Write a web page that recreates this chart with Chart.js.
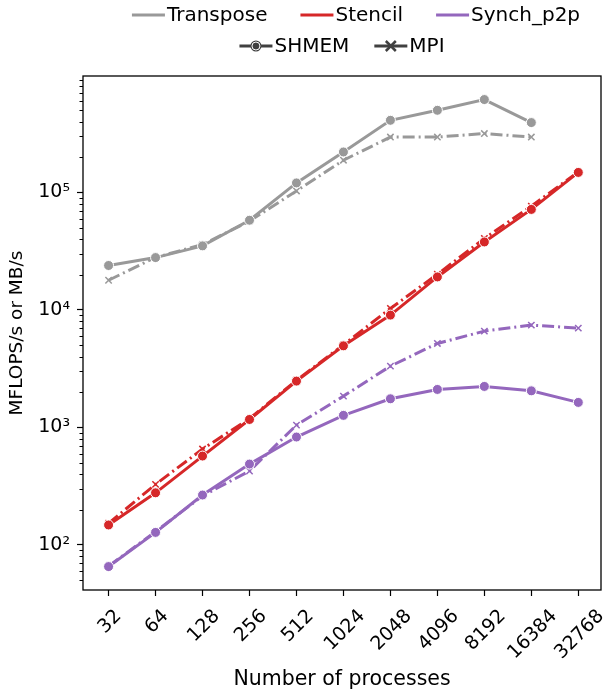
<!DOCTYPE html>
<html>
<head>
<meta charset="utf-8">
<script src="https://cdn.jsdelivr.net/npm/chart.js@4.4.1/dist/chart.umd.min.js"></script>
<style>
  body { margin: 0; background: #fff; }
  canvas { display: block; }
</style>
</head>
<body>
<canvas id="chart" width="608" height="696"></canvas>
<script>
// process counts on the x axis
const procs = [32, 64, 128, 256, 512, 1024, 2048, 4096, 8192, 16384, 32768];

// (MFLOPS/s or MB/s)
const transposeShmem = [23900, 27900, 35100, 58000, 120500, 221000, 411000, 500000, 617000, 393000];
const transposeMpi = [17900, 28000, 36000, 57000, 103000, 188000, 296000, 296000, 317000, 296000];
const stencilShmem = [148, 278, 571, 1170, 2480, 4950, 9040, 19100, 37900, 71700, 148000];
const stencilMpi = [153, 328, 655, 1190, 2520, 5050, 10300, 20100, 40600, 76400, 149600];
const synchShmem = [65.5, 128, 266, 488, 829, 1268, 1754, 2107, 2235, 2050, 1634];
const synchMpi = [66, 130, 262, 426, 1047, 1849, 3326, 5190, 6607, 7430, 7000];

const yMajor = [100, 1000, 10000, 100000];
const supers = { '2': '²', '3': '³', '4': '⁴', '5': '⁵' };

const GREY = '#999999';
const RED = '#d62728';
const PURPLE = '#9467bd';
const DARK = '#404040';
const FONT = 'DejaVu Sans';
const TICK_SIZE = 19;

function toPoints(vals) {
    return vals.map((v, i) => ({ x: procs[i], y: v }));
}

function shmem(label, vals, color) {
    return {
        label: label,
        data: toPoints(vals),
        borderColor: color,
        backgroundColor: color,
        borderWidth: 3,
        pointStyle: 'circle',
        pointRadius: 5,
        pointBorderColor: '#ffffff',
        pointBorderWidth: 1,
        pointBackgroundColor: color,
        tension: 0
    };
}

function mpi(label, vals, color) {
    return {
        label: label,
        data: toPoints(vals),
        borderColor: color,
        backgroundColor: color,
        borderWidth: 3,
        borderDash: [12, 4, 2, 4],
        pointStyle: 'crossRot',
        pointRadius: 4.5,
        pointBorderColor: color,
        pointBorderWidth: 1.5,
        tension: 0
    };
}

// box around the plot area, minor log ticks, and x labels centred under their ticks
const framePlugin = {
    id: 'frame',
    afterDraw(chart) {
        const ctx = chart.ctx;
        const a = chart.chartArea;
        const y = chart.scales.y;
        const x = chart.scales.x;
        ctx.save();
        ctx.strokeStyle = '#000';
        ctx.lineWidth = 1;
        for (let d = 10; d <= 1000000; d *= 10) {
            for (let k = 2; k <= 9; k++) {
                const v = k * d;
                if (v < y.min || v > y.max) continue;
                const p = Math.round(y.getPixelForValue(v)) + 0.5;
                ctx.beginPath();
                ctx.moveTo(a.left - 3.5, p);
                ctx.lineTo(a.left, p);
                ctx.stroke();
            }
        }
        ctx.lineWidth = 1.3;
        ctx.strokeRect(a.left, a.top, a.right - a.left, a.bottom - a.top);

        ctx.fillStyle = '#000';
        ctx.font = TICK_SIZE + 'px "' + FONT + '"';
        ctx.textAlign = 'center';
        ctx.textBaseline = 'alphabetic';
        const inkH = 0.729 * TICK_SIZE;
        const top = a.bottom + 17;
        x.ticks.forEach(t => {
            const label = String(t.value);
            const w = ctx.measureText(label).width;
            const cx = x.getPixelForValue(t.value);
            const cy = top + (w + inkH) * Math.SQRT1_2 / 2;
            ctx.save();
            ctx.translate(cx, cy);
            ctx.rotate(-Math.PI / 4);
            ctx.fillText(label, 0, inkH / 2);
            ctx.restore();
        });
        ctx.restore();
    }
};

// two-row legend like the original: colours on top, marker styles below
const legendRows = [
    { cy: 15, center: 356, spacing: 33, items: [
        { label: 'Transpose', color: GREY },
        { label: 'Stencil', color: RED },
        { label: 'Synch_p2p', color: PURPLE }
    ] },
    { cy: 46, center: 342, spacing: 25, items: [
        { label: 'SHMEM', color: DARK, marker: 'circle' },
        { label: 'MPI', color: DARK, marker: 'x' }
    ] }
];

const legendPlugin = {
    id: 'twoRowLegend',
    afterDraw(chart) {
        const ctx = chart.ctx;
        const handle = 33, gap = 2;
        ctx.save();
        ctx.font = '20px "' + FONT + '"';
        ctx.textBaseline = 'middle';
        ctx.textAlign = 'left';
        legendRows.forEach(row => {
            let total = 0;
            row.items.forEach((it, i) => {
                total += handle + gap + ctx.measureText(it.label).width + (i ? row.spacing : 0);
            });
            let x = row.center - total / 2;
            row.items.forEach(it => {
                ctx.strokeStyle = it.color;
                ctx.lineWidth = 3;
                ctx.beginPath();
                ctx.moveTo(x, row.cy);
                ctx.lineTo(x + handle, row.cy);
                ctx.stroke();
                const mx = x + handle / 2;
                if (it.marker === 'circle') {
                    ctx.fillStyle = it.color;
                    ctx.beginPath();
                    ctx.arc(mx, row.cy, 5.5, 0, Math.PI * 2);
                    ctx.fill();
                    ctx.strokeStyle = '#fff';
                    ctx.lineWidth = 1;
                    ctx.beginPath();
                    ctx.arc(mx, row.cy, 4, 0, Math.PI * 2);
                    ctx.stroke();
                } else if (it.marker === 'x') {
                    ctx.strokeStyle = it.color;
                    ctx.lineWidth = 2.5;
                    ctx.beginPath();
                    ctx.moveTo(mx - 5, row.cy - 5);
                    ctx.lineTo(mx + 5, row.cy + 5);
                    ctx.moveTo(mx - 5, row.cy + 5);
                    ctx.lineTo(mx + 5, row.cy - 5);
                    ctx.stroke();
                }
                ctx.fillStyle = '#000';
                ctx.fillText(it.label, x + handle + gap, row.cy + 1);
                x += handle + gap + ctx.measureText(it.label).width + row.spacing;
            });
        });
        ctx.restore();
    }
};

const ctx = document.getElementById('chart').getContext('2d');
const chart = new Chart(ctx, {
    type: 'line',
    data: {
        datasets: [
            shmem('Transpose SHMEM', transposeShmem, GREY),
            mpi('Transpose MPI', transposeMpi, GREY),
            shmem('Stencil SHMEM', stencilShmem, RED),
            mpi('Stencil MPI', stencilMpi, RED),
            shmem('Synch_p2p SHMEM', synchShmem, PURPLE),
            mpi('Synch_p2p MPI', synchMpi, PURPLE)
        ]
    },
    options: {
        responsive: false,
        animation: false,
        devicePixelRatio: 1,
        layout: { padding: { left: 0, right: 7, top: 76, bottom: 0 } },
        plugins: {
            legend: { display: false },
            tooltip: { enabled: false }
        },
        scales: {
            x: {
                type: 'logarithmic',
                min: 21.94,
                max: 45800,
                afterBuildTicks: scale => {
                    scale.ticks = procs.map(p => ({ value: p }));
                },
                afterFit: scale => { scale.height = 106; },
                ticks: {
                    display: false,
                    autoSkip: false,
                    callback: v => String(v)
                },
                grid: {
                    drawOnChartArea: false,
                    drawTicks: true,
                    tickLength: 6,
                    tickColor: '#000',
                    tickWidth: 1.2
                },
                border: { display: false },
                title: {
                    display: true,
                    text: 'Number of processes',
                    color: '#000',
                    font: { family: FONT, size: 20.5 },
                    padding: { top: 0, bottom: 4 }
                }
            },
            y: {
                type: 'logarithmic',
                min: 41.4,
                max: 979000,
                afterBuildTicks: scale => {
                    scale.ticks = yMajor.map(v => ({ value: v }));
                },
                afterFit: scale => { scale.width = 83; },
                ticks: {
                    color: '#000',
                    font: { family: FONT, size: TICK_SIZE },
                    padding: 7,
                    callback: v => '10' + supers[String(Math.round(Math.log10(v)))]
                },
                grid: {
                    drawOnChartArea: false,
                    drawTicks: true,
                    tickLength: 6,
                    tickColor: '#000',
                    tickWidth: 1.2
                },
                border: { display: false },
                title: {
                    display: true,
                    text: 'MFLOPS/s or MB/s',
                    color: '#000',
                    font: { family: FONT, size: 18.5 },
                    padding: { top: 6, bottom: 0 }
                }
            }
        }
    },
    plugins: [framePlugin, legendPlugin]
});
</script>
</body>
</html>
